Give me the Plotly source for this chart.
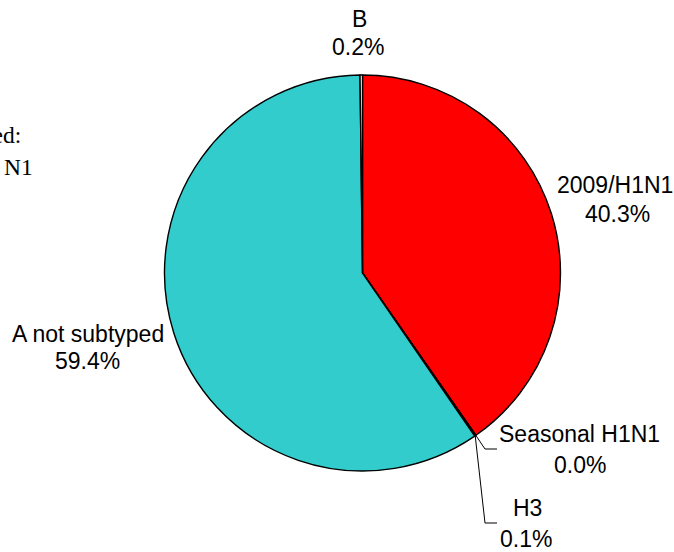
import math
import plotly.graph_objects as go

# Data
labels = ["2009/H1N1", "Seasonal H1N1", "H3", "A not subtyped", "B"]
values = [40.3, 0.02, 0.1, 59.4, 0.2]
colors = ["#FF0000", "#FFFFFF", "#FFFFFF", "#33CCCC", "#FFFFFF"]

W, H = 674, 552
cx, cy, r = 362.5, 273.0, 198.0  # pie centre / radius in pixels

fig = go.Figure(go.Pie(
    labels=labels, values=values, sort=False, direction="clockwise", rotation=0,
    marker=dict(colors=colors, line=dict(color="#000000", width=1.4)),
    textinfo="none", hoverinfo="label+percent", showlegend=False,
    domain=dict(x=[(cx - r) / W, (cx + r) / W], y=[(H - cy - r) / H, (H - cy + r) / H]),
))

total = sum(values)
pcts = [v / total * 100 for v in values]

# label line positions (pixels): (x name, y name, x pct, y pct, leader)
label_pos = {
    "2009/H1N1": (615, 185, 617, 214, False),
    "Seasonal H1N1": (579, 434, 580, 465, True),
    "H3": (527, 508, 526, 539, True),
    "A not subtyped": (88, 334, 87.5, 361, False),
    "B": (359.5, 19, 357.5, 47, False),
}

def px(x):
    return x / W

def py(y):
    return 1 - y / H

font = dict(family="Liberation Sans, Arial, sans-serif", size=23, color="#000000")
annotations = []
shapes = []
cum = 0.0
for lab, p in zip(labels, pcts):
    mid = (cum + p / 2) / 100 * 2 * math.pi
    cum += p
    nx, ny, qx, qy, leader = label_pos[lab]
    annotations.append(dict(x=px(nx), y=py(ny), xref="paper", yref="paper", showarrow=False,
                            text=lab, font=font, xanchor="center", yanchor="middle"))
    annotations.append(dict(x=px(qx), y=py(qy), xref="paper", yref="paper", showarrow=False,
                            text=f"{p:.1f}%", font=font, xanchor="center", yanchor="middle"))
    if leader:
        ly = (ny + qy) / 2 - 0.5
        sx = cx + r * math.sin(mid)
        sy = cy - r * math.cos(mid)
        path = f"M {px(sx)} {py(sy)} L {px(485)} {py(ly)} L {px(497)} {py(ly)}"
        shapes.append(dict(type="path", xref="paper", yref="paper", path=path,
                           line=dict(color="#000000", width=1)))

serif = dict(family="Liberation Serif, Times New Roman, serif", size=23.5, color="#000000")
annotations.append(dict(x=px(23), y=py(135), xref="paper", yref="paper", showarrow=False,
                        text="Subtyped:", font=serif, xanchor="right", yanchor="middle"))
annotations.append(dict(x=px(35), y=py(167), xref="paper", yref="paper", showarrow=False,
                        text="N1", font=serif, xanchor="right", yanchor="middle"))

fig.update_layout(
    width=W, height=H, margin=dict(l=0, r=0, t=0, b=0),
    paper_bgcolor="#FFFFFF", plot_bgcolor="#FFFFFF",
    annotations=annotations, shapes=shapes,
)

fig.write_html("out.html", config={"displayModeBar": False},
               post_script="document.body.style.margin='0';")
